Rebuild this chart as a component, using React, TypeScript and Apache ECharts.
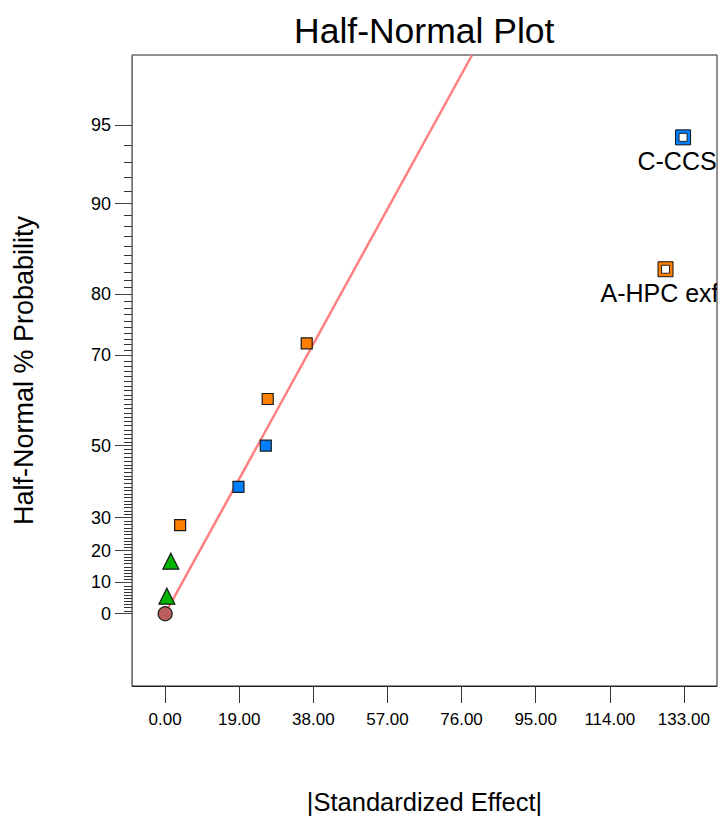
import React, { useEffect, useRef } from "react";
import * as echarts from "echarts";

const FONT = "'Liberation Sans', Arial, Helvetica, sans-serif";

// |Standardized Effect| and half-normal % probability, by marker group
const circleEffect = [0];
const circleProb = [0];
const triangleEffect = [0.44, 1.46];
const triangleProb = [5.6, 16.7];
const orangeEffect = [3.84, 26.3, 36.3];
const orangeProb = [27.8, 61.1, 72.2];
const blueEffect = [18.8, 25.8];
const blueProb = [38.9, 50.0];
const labeledNames = ["A-HPC exf", "C-CCS"];
const labeledEffect = [128.3, 132.8];
const labeledProb = [83.3, 94.4];
const labeledColors = ["#FF8000", "#0080FF"];
const fitLineEffect = [0, 78.7];
const fitLineProb = [0, 97.5];

// axes
const xTicks = [0, 19, 38, 57, 76, 95, 114, 133];
const xMin = -8.5;
const xMax = 141.5;
const yMajorTicks = [0, 10, 20, 30, 50, 70, 80, 90, 95];
const yMinorTicks: number[] = [];
for (let p = 1; p < 95; p++) if (!yMajorTicks.includes(p)) yMinorTicks.push(p);
const yMinZ = -0.29;
const yMaxProb = 97.5;

function normInv(p: number): number {
  const a = [-3.969683028665376e1, 2.209460984245205e2, -2.759285104469687e2, 1.38357751867269e2, -3.066479806614716e1, 2.506628277459239];
  const b = [-5.447609879822406e1, 1.615858368580409e2, -1.556989798598866e2, 6.680131188771972e1, -1.328068155288585e1];
  const c = [-7.784894002430293e-3, -3.223964580411365e-1, -2.400758277161838, -2.549732539343734, 4.374664141464968, 2.938163982698783];
  const d = [7.784695709041462e-3, 3.224671290700398e-1, 2.445134137142996, 3.754408661907416];
  const plow = 0.02425;
  const phigh = 1 - plow;
  let q: number, r: number;
  if (p < plow) {
    q = Math.sqrt(-2 * Math.log(p));
    return (((((c[0] * q + c[1]) * q + c[2]) * q + c[3]) * q + c[4]) * q + c[5]) / ((((d[0] * q + d[1]) * q + d[2]) * q + d[3]) * q + 1);
  }
  if (p <= phigh) {
    q = p - 0.5;
    r = q * q;
    return ((((((a[0] * r + a[1]) * r + a[2]) * r + a[3]) * r + a[4]) * r + a[5]) * q) / (((((b[0] * r + b[1]) * r + b[2]) * r + b[3]) * r + b[4]) * r + 1);
  }
  q = Math.sqrt(-2 * Math.log(1 - p));
  return -(((((c[0] * q + c[1]) * q + c[2]) * q + c[3]) * q + c[4]) * q + c[5]) / ((((d[0] * q + d[1]) * q + d[2]) * q + d[3]) * q + 1);
}
const hz = (pct: number) => normInv(0.5 + pct / 200);

const pairs = (xs: number[], ps: number[]) => xs.map((x, i) => [x, hz(ps[i])]);

export default function App() {
  const ref = useRef<HTMLDivElement>(null);
  useEffect(() => {
    if (!ref.current) return;
    const chart = echarts.init(ref.current, null, { renderer: "svg" });
    const majorZ = yMajorTicks.map(hz);
    const minorZ = yMinorTicks.map(hz);
    const yMax = hz(yMaxProb);
    const scatterBase = (name: string, data: number[][], symbol: string, size: number, color: string) => ({
      type: "scatter",
      name,
      data,
      symbol,
      symbolSize: size,
      itemStyle: { color, borderColor: "#1a1a1a", borderWidth: 1.2, opacity: 1 },
      z: 3,
      clip: true,
    });
    chart.setOption({
      animation: false,
      backgroundColor: "#ffffff",
      textStyle: { fontFamily: FONT },
      title: {
        text: "Half-Normal Plot",
        left: 294,
        top: 13,
        padding: 0,
        textStyle: { fontSize: 35.5, fontWeight: "normal", color: "#000", fontFamily: FONT },
      },
      grid: {
        left: 132,
        right: 2,
        top: 55,
        bottom: 130,
        show: true,
        borderColor: "#222",
        borderWidth: 1,
        backgroundColor: "transparent",
        containLabel: false,
        outerBoundsMode: "none",
      },
      xAxis: {
        type: "value",
        min: xMin,
        max: xMax,
        name: "|Standardized Effect|",
        nameLocation: "middle",
        nameGap: 103,
        nameTextStyle: { fontSize: 25.5, color: "#000", fontFamily: FONT },
        axisLine: { show: true, onZero: false, lineStyle: { color: "#222", width: 1 } },
        axisTick: { show: true, length: 17, customValues: xTicks, lineStyle: { color: "#333", width: 1 } },
        axisLabel: {
          show: true,
          customValues: xTicks,
          margin: 25,
          fontSize: 17,
          color: "#000",
          fontFamily: FONT,
          formatter: (v: number) => v.toFixed(2),
        },
        splitLine: { show: false },
      },
      yAxis: {
        type: "value",
        min: yMinZ,
        max: yMax,
        name: "Half-Normal % Probability",
        nameLocation: "middle",
        nameGap: 95,
        nameTextStyle: { fontSize: 27, color: "#000", fontFamily: FONT },
        axisLine: { show: true, onZero: false, lineStyle: { color: "#777", width: 1 } },
        axisTick: { show: true, length: 17, customValues: majorZ, lineStyle: { color: "#444", width: 1 } },
        axisLabel: {
          show: true,
          customValues: majorZ,
          margin: 21,
          fontSize: 18,
          color: "#000",
          fontFamily: FONT,
          formatter: (v: number) => {
            const i = majorZ.findIndex((z) => Math.abs(z - v) < 1e-6);
            return i >= 0 ? String(yMajorTicks[i]) : "";
          },
        },
        splitLine: { show: false },
      },
      series: [
        {
          type: "custom",
          name: "minorTicks",
          clip: false,
          silent: true,
          z: 1,
          data: minorZ.map((z) => [xMin, z]),
          renderItem: (params: any, api: any) => {
            const pt = api.coord([api.value(0), api.value(1)]);
            const y = Math.round(pt[1]) + 0.5;
            const x = Math.round(pt[0]);
            return {
              type: "line",
              shape: { x1: x - 8, y1: y, x2: x, y2: y },
              style: { stroke: "#333", lineWidth: 1 },
            };
          },
        },
        {
          type: "line",
          name: "fit",
          data: pairs(fitLineEffect, fitLineProb),
          symbol: "none",
          lineStyle: { color: "#FF8080", width: 2.5 },
          z: 2,
          clip: true,
        },
        scatterBase("circle", pairs(circleEffect, circleProb), "circle", 14, "#BC5E5E"),
        scatterBase("triangle", pairs(triangleEffect, triangleProb), "triangle", 16, "#00B400"),
        scatterBase("orange", pairs(orangeEffect, orangeProb), "rect", 11, "#FF8000"),
        scatterBase("blue", pairs(blueEffect, blueProb), "rect", 11, "#0080FF"),
        {
          type: "custom",
          name: "labeled",
          clip: true,
          z: 4,
          data: pairs(labeledEffect, labeledProb),
          renderItem: (params: any, api: any) => {
            const pt = api.coord([api.value(0), api.value(1)]);
            const i = params.dataIndex;
            return {
              type: "group",
              children: [
                {
                  type: "rect",
                  shape: { x: pt[0] - 7.5, y: pt[1] - 7.5, width: 15, height: 15 },
                  style: { fill: labeledColors[i], stroke: "#111", lineWidth: 1 },
                },
                {
                  type: "rect",
                  shape: { x: pt[0] - 4, y: pt[1] - 4, width: 8, height: 8 },
                  style: { fill: "#fff", stroke: "#222", lineWidth: 1 },
                },
                {
                  type: "text",
                  x: pt[0] - 6,
                  y: pt[1] + 24,
                  style: {
                    text: labeledNames[i],
                    fill: "#000",
                    fontSize: 25,
                    fontFamily: FONT,
                    align: "center",
                    verticalAlign: "middle",
                    textAlign: "center",
                    textVerticalAlign: "middle",
                  },
                },
              ],
            };
          },
        },
      ],
    });
    return () => chart.dispose();
  }, []);
  return (
    <div
      ref={ref}
      style={{ position: "absolute", left: 0, top: 0, width: 719, height: 816 }}
    />
  );
}
